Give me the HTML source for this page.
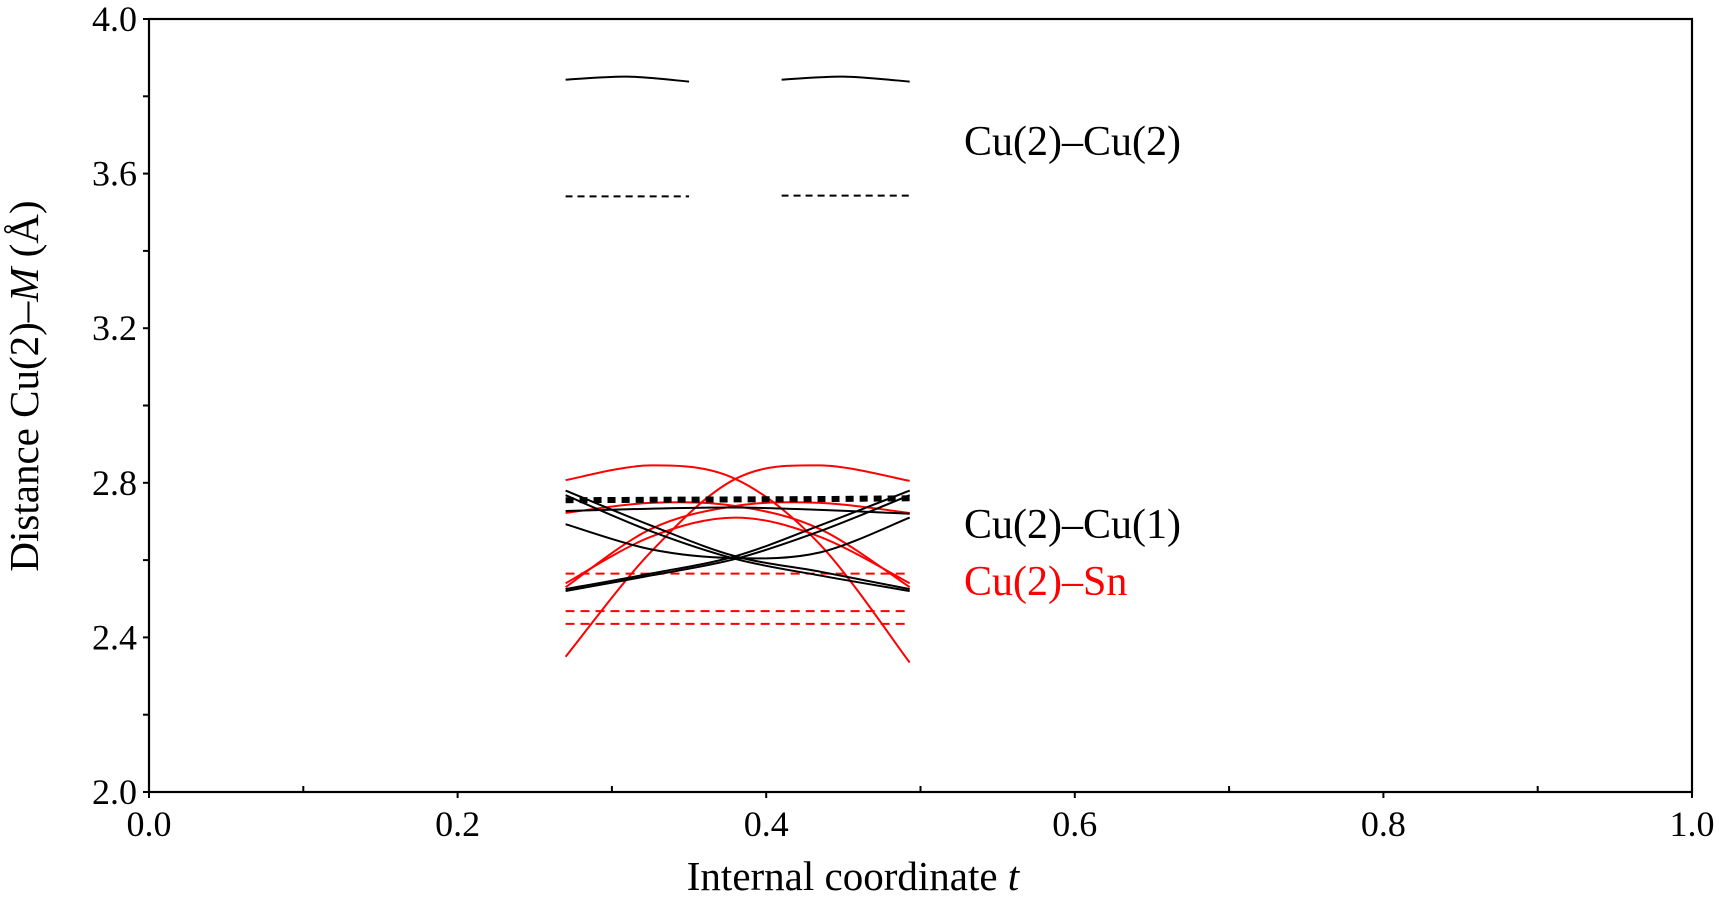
<!DOCTYPE html>
<html><head><meta charset="utf-8"><style>
html,body{margin:0;padding:0;background:#fff;}
svg{display:block;font-family:"Liberation Serif",serif;}
</style></head><body>
<svg id="chart" width="1719" height="900" viewBox="0 0 1719 900" xmlns="http://www.w3.org/2000/svg">
<g id="plot"></g>
</svg>
<script>
const xTicks = [0.0, 0.2, 0.4, 0.6, 0.8, 1.0];
const xTickLabels = ["0.0","0.2","0.4","0.6","0.8","1.0"];
const yTicks = [2.0, 2.4, 2.8, 3.2, 3.6, 4.0];
const yTickLabels = ["2.0","2.4","2.8","3.2","3.6","4.0"];
const tSamples = [0.27, 0.325, 0.38, 0.435, 0.493];
const blackSolid1 = [2.78, 2.69, 2.61, 2.57, 2.525];
const blackSolid2 = [2.525, 2.565, 2.61, 2.69, 2.78];
const blackSolid3 = [2.768, 2.675, 2.603, 2.56, 2.52];
const blackSolid4 = [2.52, 2.56, 2.603, 2.675, 2.768];
const blackSolid5 = [2.693, 2.628, 2.605, 2.62, 2.71];
const blackSolid6 = [2.727, 2.733, 2.736, 2.73, 2.72];
const blackDotted = [2.755, 2.756, 2.757, 2.758, 2.76];
const redSolid1 = [2.807, 2.845, 2.81, 2.64, 2.335];
const redSolid2 = [2.35, 2.62, 2.81, 2.845, 2.805];
const redSolid3 = [2.722, 2.748, 2.74, 2.68, 2.53];
const redSolid4 = [2.53, 2.68, 2.74, 2.748, 2.722];
const redSolid5 = [2.54, 2.66, 2.71, 2.66, 2.54];
const redDashedLevels = [2.565, 2.468, 2.435];
const cuCuT1 = [0.27, 0.31, 0.35];
const cuCuT2 = [0.41, 0.45, 0.493];
const cuCuArc1 = [3.843, 3.851, 3.838];
const cuCuArc2 = [3.843, 3.851, 3.838];
const cuCuDashed = [3.541, 3.543];

const X0=149, X1=1692, Y0=792, Y1=19;
const sx = t => X0 + (t-0)/(1-0)*(X1-X0);
const sy = v => Y0 - (v-2)/(4-2)*(Y0-Y1);
const NS="http://www.w3.org/2000/svg";
const svg=document.getElementById('chart');
const plot=document.getElementById('plot');
function mk(tag, attrs, parent){const e=document.createElementNS(NS,tag);for(const k in attrs)e.setAttribute(k,attrs[k]);(parent||svg).appendChild(e);return e;}
function smoothPath(ts, vs){
  const p=ts.map((t,i)=>[sx(t),sy(vs[i])]);
  let d=`M${p[0][0]},${p[0][1]}`;
  for(let i=0;i<p.length-1;i++){
    const p0=p[i-1]||p[i],p1=p[i],p2=p[i+1],p3=p[i+2]||p[i+1];
    const c1=[p1[0]+(p2[0]-p0[0])/6,p1[1]+(p2[1]-p0[1])/6];
    const c2=[p2[0]-(p3[0]-p1[0])/6,p2[1]-(p3[1]-p1[1])/6];
    d+=` C${c1[0]},${c1[1]} ${c2[0]},${c2[1]} ${p2[0]},${p2[1]}`;
  }
  return d;
}
const frame=mk('rect',{x:X0,y:Y1,width:X1-X0,height:Y0-Y1,fill:'none',stroke:'#000','stroke-width':2.2});


for(let i=0;i<=10;i++){
  const t=i/10, x=sx(t);
  const tk=mk('line',{x1:x,x2:x,y1:Y0,y2:Y0+(i%2?-6:6),stroke:'#000','stroke-width':2});
  
  
}
xTicks.forEach((t,i)=>{
  const tx=mk('text',{x:sx(t),y:836,'font-size':36,'text-anchor':'middle'});
  tx.textContent=xTickLabels[i];
  
  
});
for(let i=0;i<=10;i++){
  const v=2+i*0.2, y=sy(v);
  const tk=mk('line',{x1:X0-6,x2:X0,y1:y,y2:y,stroke:'#000','stroke-width':2});
  
  
}
yTicks.forEach((v,i)=>{
  const tx=mk('text',{x:X0-12,y:sy(v)+12,'font-size':36,'text-anchor':'end'});
  tx.textContent=yTickLabels[i];
  
  
});
const xt=mk('text',{x:853,y:890,'font-size':41,'text-anchor':'middle'});
xt.innerHTML='Internal coordinate <tspan font-style="italic">t</tspan>';


const yt=mk('text',{x:0,y:0,'font-size':41,'text-anchor':'middle',transform:'translate(38,386) rotate(-90)'});
yt.innerHTML='Distance Cu(2)–<tspan font-style="italic">M</tspan> (Å)';


function curve(ts,vs,color,w,dash,name){
  const p=mk('path',{d:smoothPath(ts,vs),fill:'none',stroke:color,'stroke-width':w},plot);
  if(dash)p.setAttribute('stroke-dasharray',dash);
  
  
}
curve(cuCuT1,cuCuArc1,'#000',2,null,'cu2-cu2-solid-left');
curve(cuCuT2,cuCuArc2,'#000',2,null,'cu2-cu2-solid-right');
curve([cuCuT1[0],cuCuT1[2]],[cuCuDashed[0],cuCuDashed[0]],'#000',2,'7,5','cu2-cu2-dashed-left');
curve([cuCuT2[0],cuCuT2[2]],[cuCuDashed[1],cuCuDashed[1]],'#000',2,'7,5','cu2-cu2-dashed-right');
redDashedLevels.forEach(v=>curve([tSamples[0],tSamples[4]],[v,v],'#f00',2,'9,6','cu2-sn-dashed'));
curve(tSamples,redSolid1,'#f00',2,null,'cu2-sn-curve-1');
curve(tSamples,redSolid2,'#f00',2,null,'cu2-sn-curve-2');
curve(tSamples,redSolid3,'#f00',2,null,'cu2-sn-curve-3');
curve(tSamples,redSolid4,'#f00',2,null,'cu2-sn-curve-4');
curve(tSamples,redSolid5,'#f00',2,null,'cu2-sn-curve-5');
curve(tSamples,blackSolid1,'#000',2,null,'cu2-cu1-curve-1');
curve(tSamples,blackSolid2,'#000',2,null,'cu2-cu1-curve-2');
curve(tSamples,blackSolid3,'#000',2,null,'cu2-cu1-curve-3');
curve(tSamples,blackSolid4,'#000',2,null,'cu2-cu1-curve-4');
curve(tSamples,blackSolid5,'#000',2,null,'cu2-cu1-curve-5');
curve(tSamples,blackSolid6,'#000',2,null,'cu2-cu1-curve-6');
curve(tSamples,blackDotted,'#000',6,'8,6','cu2-cu1-dotted');
[['Cu(2)–Cu(2)',155,'#000','label-cu2-cu2'],['Cu(2)–Cu(1)',538,'#000','label-cu2-cu1'],['Cu(2)–Sn',595,'#f00','label-cu2-sn']].forEach(l=>{
  const t=mk('text',{x:964,y:l[1],'font-size':42,fill:l[2]});
  t.textContent=l[0];
  
  
});
</script>
</body></html>
